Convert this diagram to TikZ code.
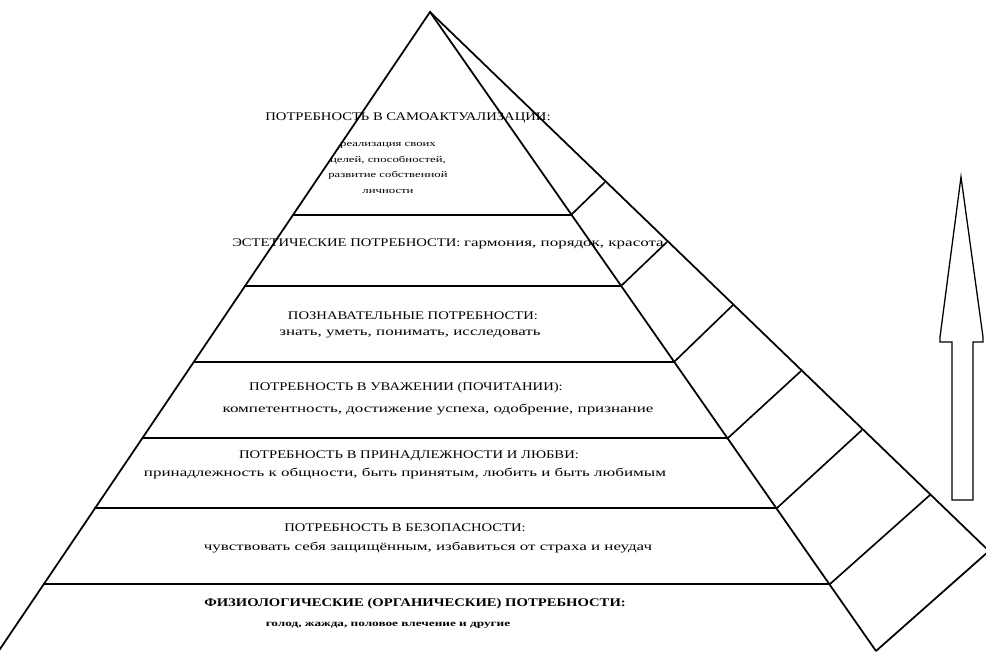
\documentclass[tikz,border=0pt]{standalone}
\usepackage{fontspec}
\setmainfont{Liberation Serif}
\newfontfamily\levelfont[FakeStretch=1.25]{Liberation Serif}
\newfontfamily\notefont[FakeStretch=1.45]{Liberation Serif}
\tikzset{
  edge/.style   = {line width=1.5pt, line join=miter},
  rung/.style   = {line width=1.4pt},
  level/.style  = {inner sep=0pt, align=center, font=\levelfont\fontsize{10}{12}\selectfont},
  note/.style   = {inner sep=0pt, align=center, font=\notefont\fontsize{10}{13.2}\selectfont},
  hollow/.style = {draw, line width=1.1pt, line join=miter, fill=white},
}

\begin{document}
\begin{tikzpicture}[x=0.3mm, y=-0.3mm]
      \useasboundingbox (0,0) rectangle (986,653);
      \coordinate (apex) at (430,12);
      \coordinate (bl)   at (-2,652);
      \coordinate (br)   at (876,651);
      \coordinate (oc)   at (989,551);
      \draw[edge] (bl) -- (apex) -- (br);
      \draw[edge] (apex) -- (oc) -- (br);

      \coordinate (l1) at (292,215); \coordinate (r1) at (571,215); \coordinate (s1) at (605,182);
      \coordinate (l2) at (244,286); \coordinate (r2) at (621,286); \coordinate (s2) at (667,242);
      \coordinate (l3) at (193,362); \coordinate (r3) at (674,362); \coordinate (s3) at (733,305);
      \coordinate (l4) at (142,438); \coordinate (r4) at (728,438); \coordinate (s4) at (801,371);
      \coordinate (l5) at (94,508);  \coordinate (r5) at (777,508); \coordinate (s5) at (862,430);
      \coordinate (l6) at (43,584);  \coordinate (r6) at (830,584); \coordinate (s6) at (930,495);
      \draw[rung] (l1) -- (r1) -- (s1);
      \draw[rung] (l2) -- (r2) -- (s2);
      \draw[rung] (l3) -- (r3) -- (s3);
      \draw[rung] (l4) -- (r4) -- (s4);
      \draw[rung] (l5) -- (r5) -- (s5);
      \draw[rung] (l6) -- (r6) -- (s6);

      \node[level] (self)   at (408,118) {ПОТРЕБНОСТЬ В САМОАКТУАЛИЗАЦИИ:};
      \node[note, font=\notefont\fontsize{7.5}{13.2}\selectfont] (selfn) at (388,168)
        {реализация своих\\целей, способностей,\\развитие собственной\\личности};
      \node[level] (aesth)  at (448,244) {ЭСТЕТИЧЕСКИЕ ПОТРЕБНОСТИ: {\notefont\fontsize{10}{13.2}\selectfont гармония, порядок, красота}};
      \node[level] (cogn)   at (413,316) {ПОЗНАВАТЕЛЬНЫЕ ПОТРЕБНОСТИ:};
      \node[note]  (cognn)  at (410,334) {знать, уметь, понимать, исследовать};
      \node[level] (esteem) at (406,388) {ПОТРЕБНОСТЬ В УВАЖЕНИИ (ПОЧИТАНИИ):};
      \node[note]  (esteemn) at (438,410) {компетентность, достижение успеха, одобрение, признание};
      \node[level] (love)   at (409,456) {ПОТРЕБНОСТЬ В ПРИНАДЛЕЖНОСТИ И ЛЮБВИ:};
      \node[note]  (loven)  at (405,474) {принадлежность к общности, быть принятым, любить и быть любимым};
      \node[level] (safe)   at (405,528) {ПОТРЕБНОСТЬ В БЕЗОПАСНОСТИ:};
      \node[note]  (safen)  at (428,548) {чувствовать себя защищённым, избавиться от страха и неудач};
      \node[level, font=\levelfont\bfseries\fontsize{10}{12}\selectfont] (phys) at (415,604) {ФИЗИОЛОГИЧЕСКИЕ (ОРГАНИЧЕСКИЕ) ПОТРЕБНОСТИ:};
      \node[note, font=\notefont\bfseries\fontsize{7.8}{13.2}\selectfont] (physn) at (388,625) {голод, жажда, половое влечение и другие};

      \draw[hollow] (952,500) -- (952,342) -- (940,342) -- (940,337) -- (961,177)
        -- (983,337) -- (983,342) -- (973,342) -- (973,500) -- cycle;
    \end{tikzpicture}
\end{document}
